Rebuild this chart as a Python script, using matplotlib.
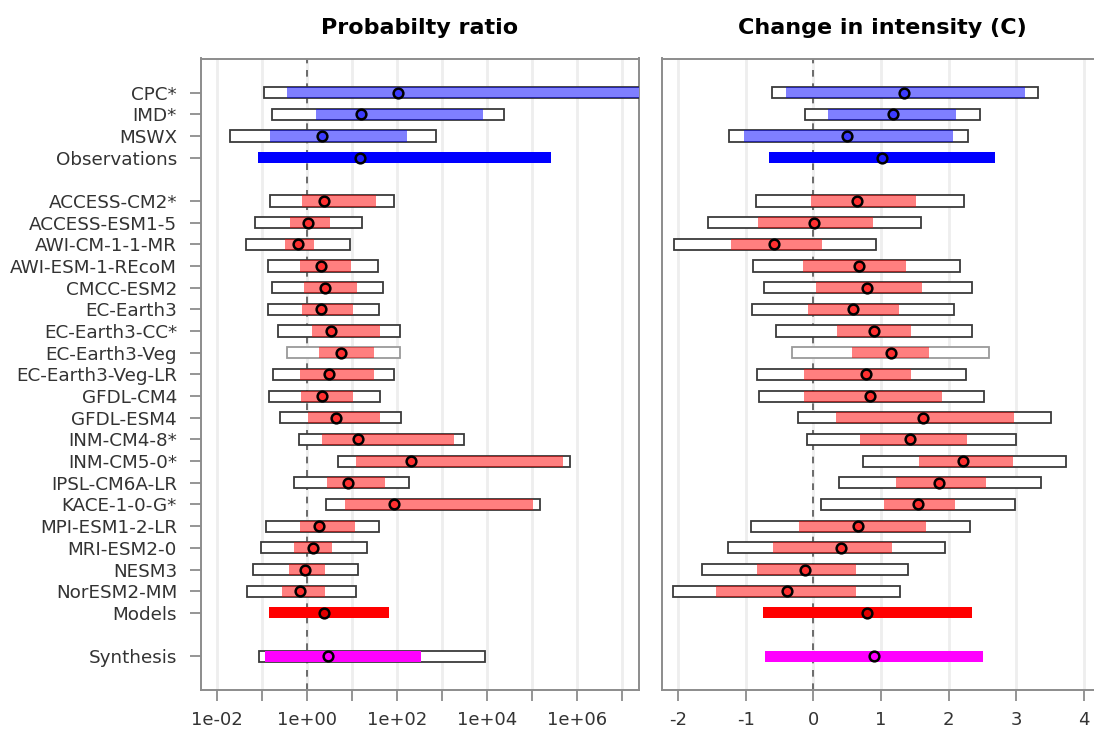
import numpy as np
import matplotlib
matplotlib.use("Agg")
import matplotlib.pyplot as plt
from matplotlib.ticker import FixedLocator, FuncFormatter

# ---------------- data ----------------
obs_names = ["CPC*", "IMD*", "MSWX"]
model_names = ["ACCESS-CM2*", "ACCESS-ESM1-5", "AWI-CM-1-1-MR", "AWI-ESM-1-REcoM",
               "CMCC-ESM2", "EC-Earth3", "EC-Earth3-CC*", "EC-Earth3-Veg",
               "EC-Earth3-Veg-LR", "GFDL-CM4", "GFDL-ESM4", "INM-CM4-8*",
               "INM-CM5-0*", "IPSL-CM6A-LR", "KACE-1-0-G*", "MPI-ESM1-2-LR",
               "MRI-ESM2-0", "NESM3", "NorESM2-MM"]

INF = float("inf")

# Probability ratio: observations (best, lower, upper, box lower, box upper)
pr_obs_best = [101.6, 15.3, 2.15]
pr_obs_lo = [0.36, 1.56, 0.146]
pr_obs_hi = [INF, 7870, 161]
pr_obs_box_lo = [0.109, 0.161, 0.0188]
pr_obs_box_hi = [INF, 23440, 711]
pr_obs_syn = [15.1, 0.0787, 255000]  # best, lower, upper

# Probability ratio: models
pr_mod_best = [2.31, 1.02, 0.621, 2.05, 2.51, 1.98, 3.41, 5.6, 3.08, 2.12, 4.34,
               13.2, 201, 7.87, 85.7, 1.79, 1.36, 0.887, 0.687]
pr_mod_lo = [0.774, 0.419, 0.324, 0.676, 0.83, 0.748, 1.25, 1.79, 0.687, 0.711, 1.04,
             2.15, 12.3, 2.69, 6.87, 0.676, 0.514, 0.392, 0.274]
pr_mod_hi = [34.1, 3.24, 1.41, 9.18, 12.7, 10.2, 41.9, 30.3, 30.3, 10.4, 41.2,
             1786, 489000, 54.1, 101600, 11.5, 3.6, 2.47, 2.47]
pr_mod_box_lo = [0.151, 0.0687, 0.0434, 0.134, 0.161, 0.134, 0.227, 0.36, 0.173, 0.138,
                 0.243, 0.641, 4.89, 0.514, 2.55, 0.119, 0.0918, 0.0621, 0.0465]
pr_mod_box_hi = [84.3, 16.1, 9.04, 37.8, 48.9, 39.2, 114.6, 112.7, 85.7, 40.5, 122.7,
                 2979, 676000, 181.6, 150700, 38.5, 21.5, 13.6, 11.9]
pr_mod_syn = [2.31, 0.141, 65.3]

# Probability ratio: synthesis (best, lower, upper, box lower, box upper)
pr_syn = [2.93, 0.117, 330, 0.0843, 8870]

# Change in intensity: observations
di_obs_best = [1.333, 1.18, 0.502]
di_obs_lo = [-0.398, 0.221, -1.018]
di_obs_hi = [3.124, 2.105, 2.066]
di_obs_box_lo = [-0.61, -0.128, -1.249]
di_obs_box_hi = [3.325, 2.464, 2.292]
di_obs_syn = [1.008, -0.654, 2.681]

# Change in intensity: models
di_mod_best = [0.639, 0.015, -0.576, 0.669, 0.787, 0.585, 0.89, 1.141, 0.777, 0.836,
               1.618, 1.426, 2.204, 1.864, 1.545, 0.664, 0.408, -0.128, -0.389]
di_mod_lo = [-0.034, -0.812, -1.215, -0.148, 0.039, -0.079, 0.349, 0.571, -0.133, -0.133,
             0.339, 0.684, 1.564, 1.215, 1.038, -0.207, -0.6, -0.836, -1.431]
di_mod_hi = [1.515, 0.876, 0.123, 1.372, 1.603, 1.269, 1.446, 1.712, 1.436, 1.904,
             2.971, 2.268, 2.951, 2.558, 2.09, 1.663, 1.166, 0.625, 0.63]
di_mod_box_lo = [-0.846, -1.554, -2.051, -0.885, -0.733, -0.905, -0.546, -0.31, -0.826,
                 -0.807, -0.221, -0.089, 0.728, 0.384, 0.113, -0.915, -1.254, -1.638, -2.071]
di_mod_box_hi = [2.228, 1.594, 0.925, 2.164, 2.341, 2.076, 2.341, 2.592, 2.258, 2.528,
                 3.507, 2.996, 3.733, 3.369, 2.986, 2.322, 1.938, 1.402, 1.279]
di_mod_syn = [0.792, -0.748, 2.351]

di_syn = [0.89, -0.713, 2.514]

# ---------------- layout ----------------
n_obs = len(obs_names)
n_mod = len(model_names)
y_obs = np.arange(n_obs)
y_obs_syn = n_obs
y_mod = np.arange(n_mod) + n_obs + 2
y_mod_syn = y_mod[-1] + 1
y_syn = y_mod_syn + 2

ylabels = obs_names + ["Observations"] + model_names + ["Models", "Synthesis"]
yticks = list(y_obs) + [y_obs_syn] + list(y_mod) + [y_mod_syn, y_syn]

plt.rcParams["font.family"] = "DejaVu Sans"
plt.rcParams["axes.unicode_minus"] = False

W, H = 1094, 738
fig = plt.figure(figsize=(W / 100, H / 100), dpi=100)

y_top_px, y_bot_px = 58.5, 690.0
bottom = 1 - y_bot_px / H
height = (y_bot_px - y_top_px) / H
axL = fig.add_axes([200.7 / W, bottom, (639.3 - 200.7) / W, height])
axR_right_px = 1104.0
axR = fig.add_axes([661.7 / W, bottom, (axR_right_px - 661.7) / W, height])

BH = 0.52
BLUE_L = (0.0, 0.0, 1.0, 0.5)
RED_L = (1.0, 0.0, 0.0, 0.5)
edge_dark = "#3a3a3a"
edge_light = "#9a9a9a"
light_rows = {"EC-Earth3-Veg"}

ylim = (27.56, -1.58)


def clip(v, cap):
    return np.minimum(np.asarray(v, dtype=float), cap)


def draw(ax, cap, o_best, o_lo, o_hi, o_blo, o_bhi, o_syn,
         m_best, m_lo, m_hi, m_blo, m_bhi, m_syn, syn, syn_box):
    # observational datasets
    o_bhi = clip(o_bhi, cap)
    o_hi = clip(o_hi, cap)
    ax.barh(y_obs, o_bhi - np.asarray(o_blo), left=o_blo, height=BH,
            facecolor="white", edgecolor=edge_dark, linewidth=1.3, zorder=3)
    ax.barh(y_obs, o_hi - np.asarray(o_lo), left=o_lo, height=BH,
            facecolor=BLUE_L, edgecolor="none", zorder=4)
    ax.plot(o_best, y_obs, "o", ms=7, mfc="#3c3cff", mec="black", mew=1.8,
            zorder=6, ls="none")
    # observation synthesis
    ax.barh([y_obs_syn], [o_syn[2] - o_syn[1]], left=[o_syn[1]], height=BH,
            facecolor="#0000ff", edgecolor="none", zorder=4)
    ax.plot([o_syn[0]], [y_obs_syn], "o", ms=7, mfc="#2020ff", mec="black",
            mew=1.8, zorder=6)
    # models
    for i, name in enumerate(model_names):
        ec = edge_light if name in light_rows else edge_dark
        ax.barh([y_mod[i]], [m_bhi[i] - m_blo[i]], left=[m_blo[i]], height=BH,
                facecolor="white", edgecolor=ec, linewidth=1.3, zorder=3)
    ax.barh(y_mod, np.asarray(m_hi) - np.asarray(m_lo), left=m_lo, height=BH,
            facecolor=RED_L, edgecolor="none", zorder=4)
    ax.plot(m_best, y_mod, "o", ms=7, mfc="#ff3030", mec="black", mew=1.8,
            zorder=6, ls="none")
    # model synthesis
    ax.barh([y_mod_syn], [m_syn[2] - m_syn[1]], left=[m_syn[1]], height=BH,
            facecolor="#ff0000", edgecolor="none", zorder=4)
    ax.plot([m_syn[0]], [y_mod_syn], "o", ms=7, mfc="#e00000", mec="black",
            mew=1.8, zorder=6)
    # overall synthesis
    if syn_box:
        ax.barh([y_syn], [syn[4] - syn[3]], left=[syn[3]], height=BH,
                facecolor="white", edgecolor=edge_dark, linewidth=1.3, zorder=3)
    ax.barh([y_syn], [syn[2] - syn[1]], left=[syn[1]], height=BH,
            facecolor="#ff00ff", edgecolor="none", zorder=4)
    ax.plot([syn[0]], [y_syn], "o", ms=7, mfc="#ff00ff", mec="black",
            mew=1.8, zorder=6)


draw(axL, 1e12, pr_obs_best, pr_obs_lo, pr_obs_hi, pr_obs_box_lo, pr_obs_box_hi,
     pr_obs_syn, pr_mod_best, pr_mod_lo, pr_mod_hi, pr_mod_box_lo, pr_mod_box_hi,
     pr_mod_syn, pr_syn, True)
draw(axR, 1e12, di_obs_best, di_obs_lo, di_obs_hi, di_obs_box_lo, di_obs_box_hi,
     di_obs_syn, di_mod_best, di_mod_lo, di_mod_hi, di_mod_box_lo, di_mod_box_hi,
     di_mod_syn, di_syn, False)

# ---------------- axes styling ----------------
axL.set_xscale("log")
axL.set_xlim(10 ** -2.369, 10 ** 7.378)
pr_ticks = [10.0 ** k for k in range(-2, 8)]
axL.xaxis.set_major_locator(FixedLocator(pr_ticks))
axL.xaxis.set_minor_locator(FixedLocator([]))
axL.xaxis.set_major_formatter(FuncFormatter(
    lambda v, p: ("%.0e" % v) if int(round(np.log10(v))) % 2 == 0 else ""))

# right axis: -2 at 677.7 px, 1 unit = 67.7 px
axR.set_xlim((661.7 - 813.3) / 67.7, (axR_right_px - 813.3) / 67.7)
axR.set_xticks([-2, -1, 0, 1, 2, 3, 4])

for ax in (axL, axR):
    ax.set_ylim(*ylim)
    for s in ax.spines.values():
        s.set_color("#8c8c8c")
        s.set_linewidth(1.4)
    ax.grid(axis="x", color="#eeeeee", linewidth=2, zorder=0)
    ax.set_axisbelow(True)
    ax.tick_params(axis="x", length=8, width=1.3, color="#8c8c8c",
                   labelsize=13, labelcolor="#333333", pad=7)

axL.axvline(1, color="#555555", linestyle=(0, (4, 4)), linewidth=1.2, zorder=1)
axR.axvline(0, color="#555555", linestyle=(0, (4, 4)), linewidth=1.2, zorder=1)

axL.set_yticks(yticks)
axL.set_yticklabels(ylabels)
axL.tick_params(axis="y", length=8, width=1.3, color="#8c8c8c",
                labelsize=13.2, labelcolor="#333333", pad=9)
axR.set_yticks([])

axL.set_title("Probabilty ratio", fontsize=16, fontweight="bold", pad=18)
axR.set_title("Change in intensity (C)", fontsize=16, fontweight="bold", pad=18)

fig.savefig("out.png", dpi=100)
